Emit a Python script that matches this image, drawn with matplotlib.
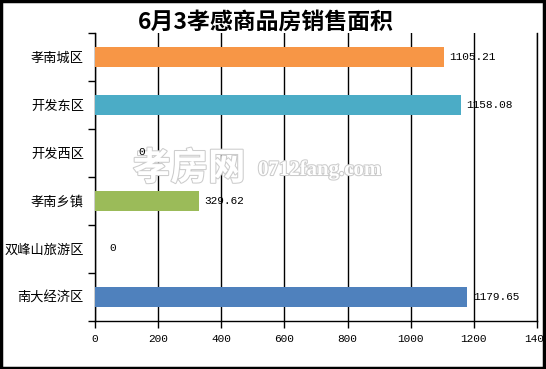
import matplotlib.pyplot as plt
import matplotlib.patheffects as pe
from matplotlib.patches import Rectangle

# data
districts = ["孝南城区", "开发东区", "开发西区", "孝南乡镇", "双峰山旅游区", "南大经济区"]
areas = [1105.21, 1158.08, 0, 329.62, 0, 1179.65]
bar_colors = ["#F79646", "#4BACC6", "#9BBB59", "#9BBB59", "#4F81BD", "#4F81BD"]
value_labels = ["1105.21", "1158.08", "0", "329.62", "0", "1179.65"]
x_ticks = [0, 200, 400, 600, 800, 1000, 1200, 1400]

plt.rcParams['font.family'] = ['Noto Sans CJK SC', 'DejaVu Sans']

fig = plt.figure(figsize=(5.46, 3.69), dpi=100)
ax = fig.add_axes([95 / 546, 1 - 321 / 369, 442 / 546, 288 / 369])

pos = [5.5 - i for i in range(len(districts))]  # top to bottom
ax.barh(pos, areas, height=0.42, color=bar_colors, zorder=3)

# value labels; the zero labels sit at odd offsets in the original
zero_x = {2: 149, 4: 55}
for i, (p, v, lab) in enumerate(zip(pos, areas, value_labels)):
    if v == 0:
        ax.text(zero_x[i], p + 0.03, lab, ha="center", va="center",
                fontsize=8, family="Liberation Mono", zorder=7)
    else:
        ax.text(v + 18, p, lab, ha="left", va="center",
                fontsize=8, family="Liberation Mono", zorder=7)

ax.set_xlim(0, 1400)
ax.set_ylim(0, 6)
ax.set_xticks(x_ticks)
ax.set_xticklabels([str(t) for t in x_ticks], family="Liberation Mono", fontsize=8)
ax.set_yticks(range(7))
ax.set_yticklabels([])
ax.set_yticks(pos, minor=True)
ax.set_yticklabels(districts, minor=True, fontsize=9.5)
ax.tick_params(axis="y", which="minor", length=0, pad=8)
ax.tick_params(axis="y", which="major", length=5, width=1, direction="out")
ax.tick_params(axis="x", length=5, width=1, direction="out", pad=4)

ax.grid(axis="x", color="black", linewidth=1, zorder=1)
ax.spines["top"].set_visible(False)
for s in ["left", "bottom", "right"]:
    ax.spines[s].set_linewidth(1)

fig.text(266 / 546, 1 - 22 / 369, "6月3孝感商品房销售面积", ha="center", va="center",
         fontsize=16.5, fontweight="bold")

# watermark, drawn inside the axes so the zero label stays above it
stroke = [pe.withStroke(linewidth=1.5, foreground="#cccccc")]
ax.text(133 / 546, 1 - 168 / 369, "孝房网", ha="left", va="center", fontsize=27,
        fontweight="bold", color="white", path_effects=stroke, zorder=5,
        transform=fig.transFigure)
ax.text(258 / 546, 1 - 170 / 369, "0712fang.com", ha="left", va="center", fontsize=15,
        family="Liberation Serif", fontweight="bold", color="white",
        path_effects=stroke, zorder=5, transform=fig.transFigure)

# outer frame
fig.patches.append(Rectangle((0.002, 0.003), 0.995, 0.994, transform=fig.transFigure,
                             fill=False, edgecolor="black", linewidth=2.5))

fig.savefig("out.png", dpi=100)
